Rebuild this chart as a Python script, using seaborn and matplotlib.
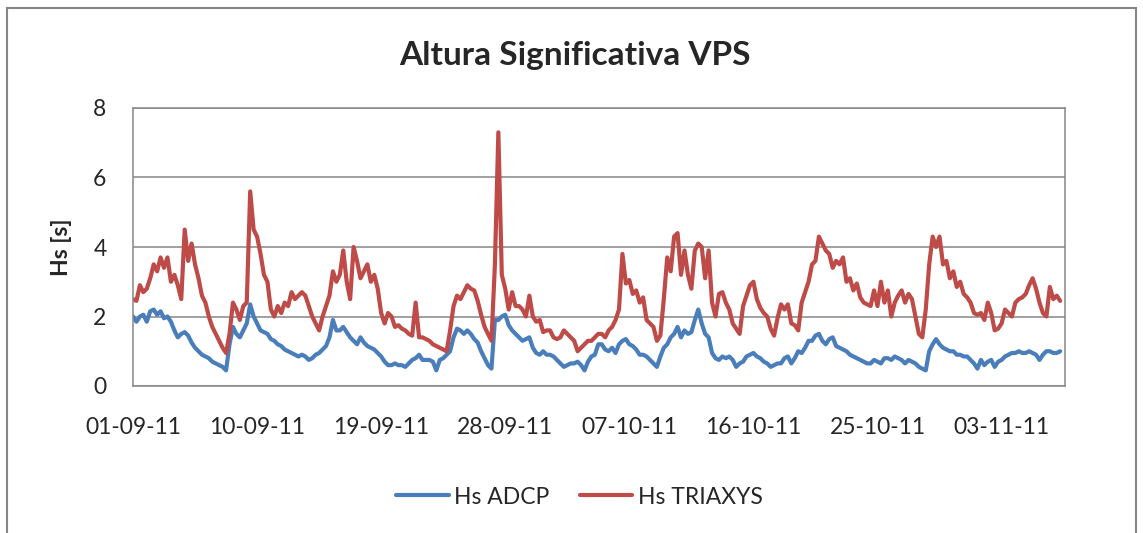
import pandas as pd
import numpy as np
import matplotlib
matplotlib.use("Agg")
import matplotlib.pyplot as plt
import matplotlib.dates as mdates
from matplotlib.patches import Rectangle
import seaborn as sns

# Hs values, one value every 6 hours from 01-09-11 00:00 (4 per row = 1 day)
hs_adcp = [
    2.0, 1.85, 2.0, 2.05,   1.85, 2.15, 2.2, 2.05,   2.15, 1.95, 2.0, 1.85,   1.6, 1.4, 1.5, 1.55,
    1.45, 1.25, 1.1, 1.0,   0.9, 0.85, 0.8, 0.7,     0.65, 0.6, 0.55, 0.45,   1.2, 1.7, 1.5, 1.4,
    1.6, 1.8, 2.35, 2.0,    1.8, 1.6, 1.55, 1.5,     1.35, 1.3, 1.2, 1.15,    1.05, 1.0, 0.95, 0.9,
    0.85, 0.9, 0.85, 0.75,  0.8, 0.9, 0.95, 1.05,    1.15, 1.4, 1.9, 1.6,     1.6, 1.7, 1.55, 1.4,
    1.3, 1.2, 1.4, 1.25,    1.15, 1.1, 1.05, 0.95,   0.85, 0.7, 0.6, 0.6,     0.65, 0.6, 0.6, 0.55,
    0.65, 0.75, 0.8, 0.9,   0.75, 0.75, 0.75, 0.7,   0.45, 0.75, 0.8, 0.9,    1.0, 1.4, 1.65, 1.6,
    1.5, 1.6, 1.5, 1.35,    1.25, 1.0, 0.8, 0.6,     0.5, 1.9, 1.9, 2.0,      2.05, 1.75, 1.6, 1.5,
    1.4, 1.3, 1.35, 1.4,    1.1, 0.95, 0.9, 1.0,     0.9, 0.9, 0.85, 0.75,    0.65, 0.55, 0.6, 0.65,
    0.65, 0.7, 0.6, 0.45,   0.7, 0.85, 0.9, 1.2,     1.2, 1.05, 1.0, 1.1,     0.95, 1.2, 1.3, 1.35,
    1.2, 1.15, 1.05, 0.9,   0.9, 0.85, 0.75, 0.65,   0.55, 0.85, 1.1, 1.2,    1.4, 1.5, 1.7, 1.4,
    1.6, 1.5, 1.55, 1.9,    2.2, 1.8, 1.5, 1.4,      0.95, 0.8, 0.75, 0.85,   0.8, 0.85, 0.75, 0.55,
    0.65, 0.7, 0.85, 0.9,   0.95, 0.85, 0.8, 0.7,    0.65, 0.55, 0.6, 0.65,   0.65, 0.8, 0.85, 0.65,
    0.8, 1.0, 0.95, 1.1,    1.3, 1.3, 1.45, 1.5,     1.3, 1.2, 1.35, 1.4,     1.15, 1.1, 1.05, 1.0,
    0.9, 0.85, 0.8, 0.75,   0.7, 0.65, 0.65, 0.75,   0.7, 0.65, 0.8, 0.8,     0.75, 0.85, 0.8, 0.75,
    0.65, 0.75, 0.7, 0.65,  0.55, 0.5, 0.45, 1.0,    1.2, 1.35, 1.2, 1.1,     1.05, 1.0, 1.0, 0.9,
    0.9, 0.85, 0.85, 0.75,  0.65, 0.5, 0.75, 0.6,    0.7, 0.75, 0.55, 0.7,    0.75, 0.85, 0.9, 0.95,
    0.95, 1.0, 0.95, 0.95,  1.0, 0.95, 0.9, 0.75,    0.9, 1.0, 1.0, 0.95,     0.95, 1.0,
]
hs_triaxys = [
    2.5, 2.45, 2.9, 2.7,    2.8, 3.1, 3.5, 3.3,      3.7, 3.4, 3.7, 3.0,      3.2, 2.9, 2.5, 4.5,
    3.6, 4.1, 3.5, 3.1,     2.6, 2.4, 2.0, 1.7,      1.5, 1.3, 1.1, 0.95,     1.5, 2.4, 2.2, 1.9,
    2.3, 2.4, 5.6, 4.5,     4.3, 3.8, 3.2, 3.0,      2.2, 2.0, 2.3, 2.1,      2.4, 2.3, 2.7, 2.5,
    2.6, 2.7, 2.6, 2.3,     2.0, 1.8, 1.6, 2.0,      2.3, 2.6, 3.3, 3.0,      3.2, 3.9, 3.0, 2.5,
    4.0, 3.6, 3.1, 3.3,     3.5, 3.0, 3.2, 2.8,      2.1, 1.8, 2.1, 2.0,      1.7, 1.75, 1.65, 1.6,
    1.5, 1.45, 2.4, 1.4,    1.4, 1.35, 1.3, 1.2,     1.15, 1.1, 1.05, 1.0,    1.6, 2.3, 2.6, 2.5,
    2.7, 2.9, 2.8, 2.75,    2.45, 2.05, 1.7, 1.5,    1.3, 3.5, 7.3, 3.2,      2.8, 2.2, 2.7, 2.3,
    2.3, 2.2, 2.0, 2.6,     2.0, 1.85, 1.9, 1.55,    1.6, 1.6, 1.4, 1.35,     1.4, 1.6, 1.5, 1.4,
    1.3, 1.0, 1.1, 1.2,     1.3, 1.3, 1.4, 1.5,      1.5, 1.4, 1.6, 1.7,      1.9, 2.2, 3.8, 2.95,
    3.05, 2.65, 2.75, 2.4,  2.55, 1.9, 1.8, 1.7,     1.3, 1.45, 2.5, 3.7,     3.3, 4.3, 4.4, 3.2,
    3.9, 3.2, 2.8, 3.9,     4.1, 4.0, 3.1, 3.9,      2.4, 2.0, 2.65, 2.7,     2.4, 2.2, 1.8, 1.65,
    1.5, 2.3, 2.6, 2.9,     3.0, 2.5, 2.25, 2.1,     2.0, 1.65, 1.45, 1.95,   2.35, 2.2, 2.35, 1.8,
    1.75, 1.6, 2.4, 2.7,    3.0, 3.5, 3.6, 4.3,      4.1, 3.9, 3.8, 3.4,      3.6, 3.5, 3.7, 3.0,
    3.1, 2.75, 2.95, 2.55,  2.4, 2.35, 2.3, 2.75,    2.3, 3.0, 2.4, 2.75,     2.0, 2.4, 2.6, 2.75,
    2.4, 2.65, 2.5, 2.0,    1.5, 1.4, 2.2, 3.5,      4.3, 4.0, 4.3, 3.5,      3.6, 3.1, 3.3, 2.85,
    3.0, 2.65, 2.55, 2.4,   2.1, 2.05, 2.1, 1.9,     2.4, 2.1, 1.6, 1.65,     1.8, 2.2, 2.1, 2.0,
    2.4, 2.5, 2.55, 2.65,   2.9, 3.1, 2.8, 2.4,      2.1, 2.0, 2.85, 2.5,     2.6, 2.45,
]
series_names = ["Hs ADCP", "Hs TRIAXYS"]
series_colors = ["#4A7EBB", "#BE4B48"]
tick_dates = ["2011-09-01", "2011-09-10", "2011-09-19", "2011-09-28",
              "2011-10-07", "2011-10-16", "2011-10-25", "2011-11-03"]

times = pd.date_range("2011-09-01 00:00", periods=len(hs_adcp), freq="6h")
df = pd.DataFrame({"Fecha": times, "Hs ADCP": hs_adcp, "Hs TRIAXYS": hs_triaxys})
df = df.melt(id_vars="Fecha", var_name="Serie", value_name="Hs")

sns.set_style("white")
plt.rcParams["font.family"] = ["Lato", "DejaVu Sans"]
grey = "#868686"

fig = plt.figure(figsize=(11.43, 5.33), dpi=100)
ax = fig.add_axes([133 / 1143, 1 - 386 / 533, 932 / 1143, 278 / 533])

sns.lineplot(data=df, x="Fecha", y="Hs", hue="Serie", hue_order=series_names,
             palette=series_colors, linewidth=3.0, ax=ax, legend=False)

ax.set_ylim(0, 8)
ax.set_yticks([0, 2, 4, 6, 8])
ax.set_xlim(pd.Timestamp("2011-09-01 00:00"), pd.Timestamp("2011-11-07 14:24"))
ax.set_xticks(pd.to_datetime(tick_dates))
ax.xaxis.set_major_formatter(mdates.DateFormatter("%d-%m-%y"))
ax.grid(axis="y", color=grey, linewidth=1.1)
ax.grid(axis="x", visible=False)
for sp in ax.spines.values():
    sp.set_color(grey)
    sp.set_linewidth(1.1)
ax.tick_params(axis="x", length=0, labelsize=16.5, pad=22)
ax.tick_params(axis="y", length=0, labelsize=16.5, pad=19)
ax.set_xlabel("")
ax.set_ylabel("Hs [s]", fontsize=16.5, fontweight="bold")
ax.yaxis.set_label_coords(-0.0655, 0.5)

fig.text(575 / 1143, 1 - 56 / 533, "Altura Significativa VPS",
         ha="center", va="center", fontsize=24, fontweight="bold")

fig.legend(ax.get_lines()[:2], series_names, loc="center",
           bbox_to_anchor=(0.507, 1 - 497 / 533), ncol=2, frameon=False,
           fontsize=16.5, handlelength=2.3, handletextpad=0.25, columnspacing=1.3)

# chart area border (Excel style)
fig.patches.append(Rectangle((7 / 1143, -0.1), 1129 / 1143, 1.085, fill=False,
                             edgecolor=grey, linewidth=1.5,
                             transform=fig.transFigure, figure=fig))

fig.savefig("out.png", dpi=100)
